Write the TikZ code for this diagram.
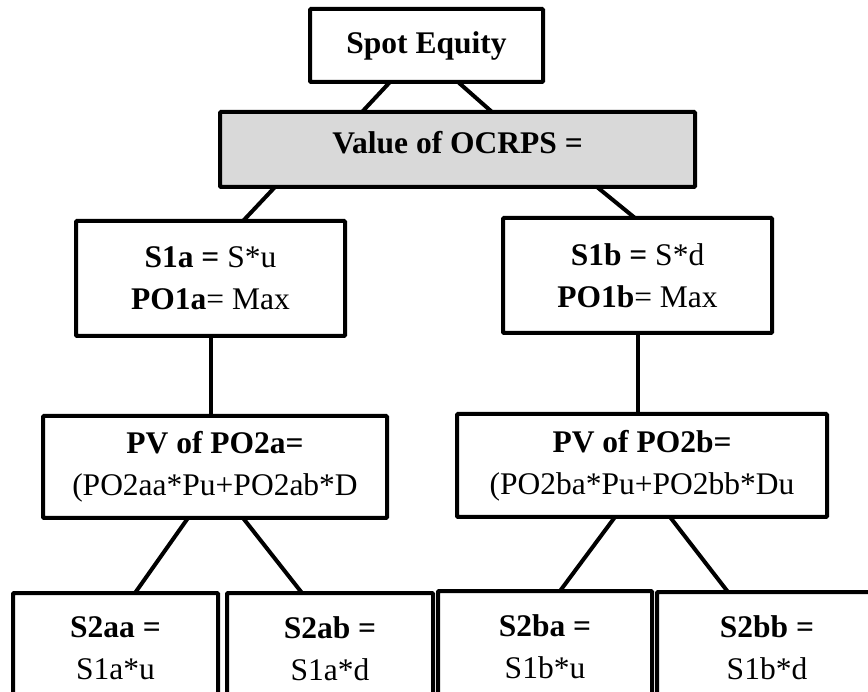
\documentclass[tikz,border=0pt]{standalone}
\usepackage{fontspec}
\setmainfont{Liberation Serif}
\usepackage{tikz}
\usetikzlibrary{positioning, calc}
\definecolor{neutral}{HTML}{000000}
\definecolor{valuebg}{HTML}{D9D9D9}
\tikzset{
    box/.style={rectangle, rounded corners=1pt, draw=neutral, line width=4pt,
                align=center, inner sep=0pt, outer sep=0pt,
                font=\fontsize{31.5}{42}\selectfont},
    valuebox/.style={box, fill=valuebg},
    leafbox/.style={box, anchor=north, inner ysep=24pt, inner xsep=0pt},
    link/.style={line width=4pt, color=neutral},
}

\begin{document}
\begin{tikzpicture}[x=1pt, y=-1pt]

  \useasboundingbox (0,0) rectangle (868,692);
  \clip (0,0) rectangle (868,692);

  % root and value
  \node[box, minimum width=233pt, minimum height=73pt] (spot) at (426.5,45.5) {\textbf{Spot Equity}};
  \node[valuebox, minimum width=475pt, minimum height=75pt, text depth=14pt] (ocrps) at (457.5,149.5)
       {\textbf{Value of OCRPS =}};

  % first step
  \node[box, minimum width=269pt, minimum height=115pt] (s1a) at (210.5,278.5)
       {\textbf{S1a =} S*u\\\textbf{PO1a}= Max};
  \node[box, minimum width=269pt, minimum height=115pt] (s1b) at (637.5,275.5)
       {\textbf{S1b =} S*d\\\textbf{PO1b}= Max};

  \node[box, minimum width=344pt, minimum height=102pt] (pva) at (215,467)
       {\textbf{PV of PO2a=}\\(PO2aa*Pu+PO2ab*D};
  \node[box, minimum width=370pt, minimum height=103pt] (pvb) at (642,465.5)
       {\textbf{PV of PO2b=}\\(PO2ba*Pu+PO2bb*Du};

  % second step
  \node[leafbox, minimum width=205pt] (s2aa) at (115.5,593) {\textbf{S2aa =}\\S1a*u};
  \node[leafbox, minimum width=206pt] (s2ab) at (330,593) {\textbf{S2ab =}\\S1a*d};
  \node[leafbox, minimum width=214pt] (s2ba) at (545,591) {\textbf{S2ba =}\\S1b*u};
  \node[leafbox, minimum width=220pt] (s2bb) at (767,592) {\textbf{S2bb =}\\S1b*d};

  \draw[link] ([xshift=80pt]spot.south west) -- ([xshift=142pt]ocrps.north west);
  \draw[link] ([xshift=148pt]spot.south west) -- ([xshift=272pt]ocrps.north west);

  \draw[link] ([xshift=55pt]ocrps.south west) -- ([xshift=167pt]s1a.north west);
  \draw[link] ([xshift=377pt]ocrps.south west) -- ([xshift=132pt]s1b.north west);

  \draw[link] (s1a.south) -- (s1a.south |- pva.north);
  \draw[link] (s1b.south) -- (s1b.south |- pvb.north);

  \draw[link] ([xshift=145pt]pva.south west) -- ([xshift=122pt]s2aa.north west);
  \draw[link] ([xshift=200pt]pva.south west) -- ([xshift=75pt]s2ab.north west);
  \draw[link] ([xshift=158pt]pvb.south west) -- ([xshift=122pt]s2ba.north west);
  \draw[link] ([xshift=213pt]pvb.south west) -- ([xshift=71pt]s2bb.north west);

\end{tikzpicture}
\end{document}
